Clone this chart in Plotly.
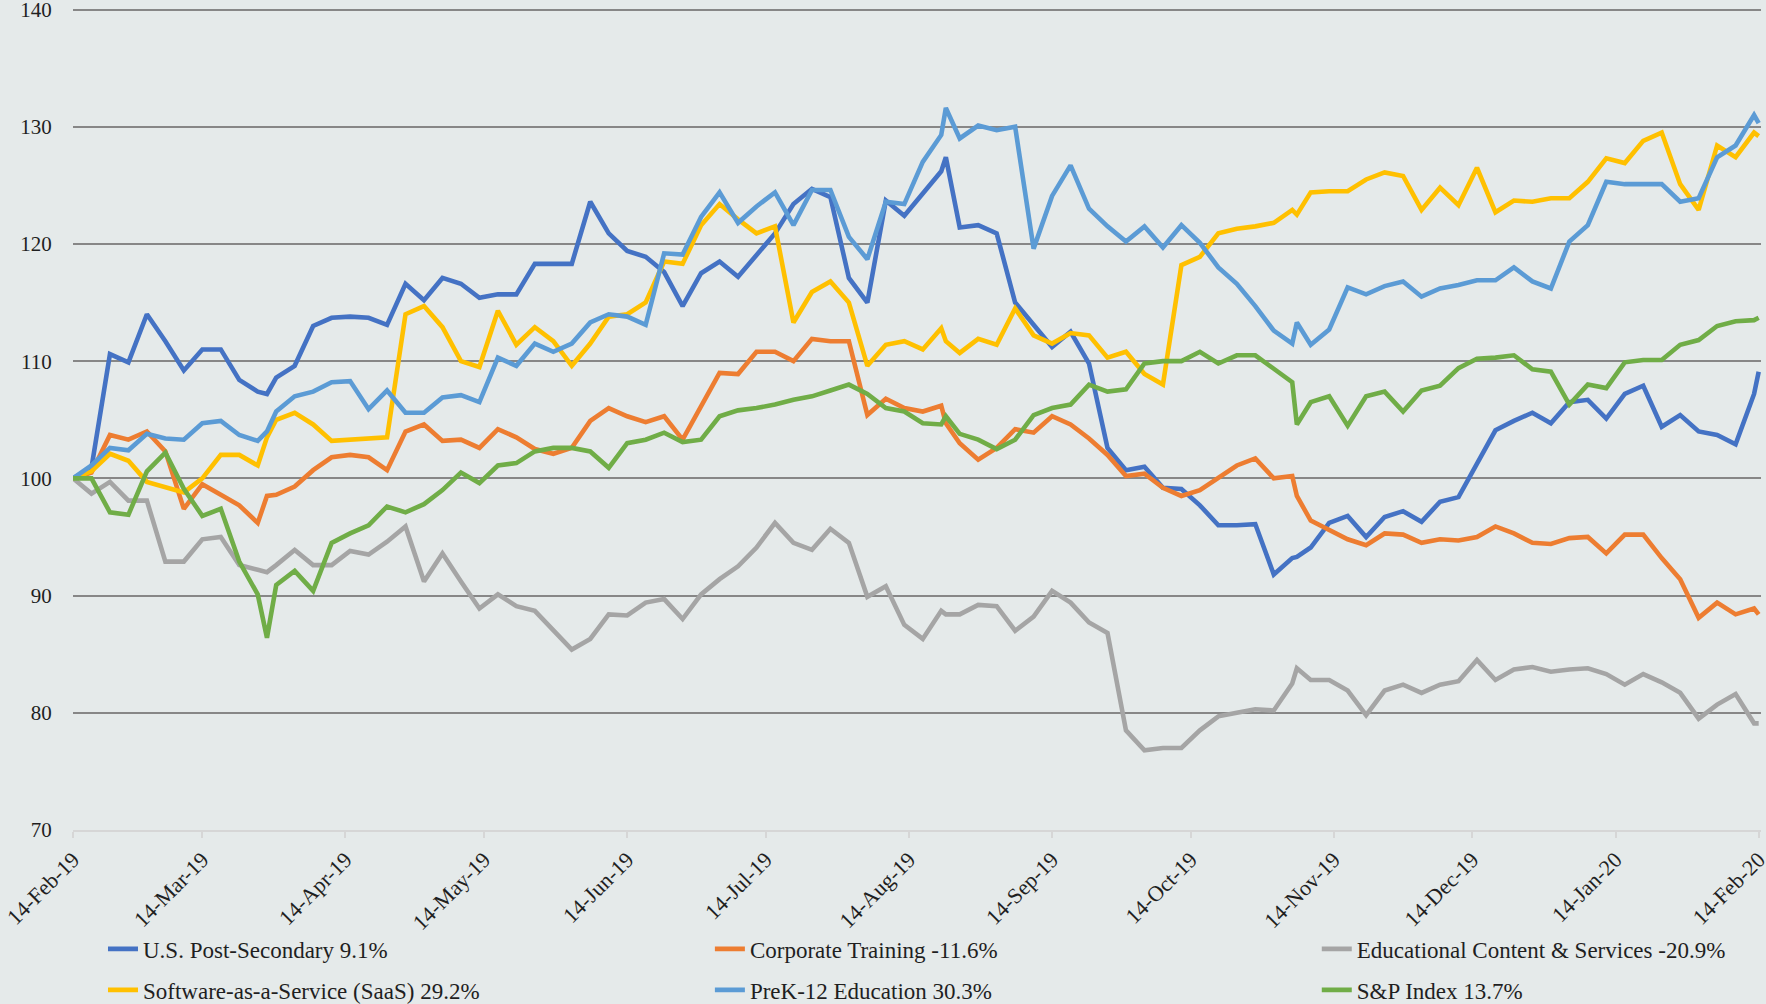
import pandas as pd
import plotly.graph_objects as go

START = "2019-02-14"
DAY_OFFSETS = [0, 4, 8, 12, 16, 20, 24, 28, 32, 36,
               40, 42, 44, 48, 52, 56, 60, 64, 68, 72,
               76, 80, 84, 88, 92, 96, 100, 104, 108, 112,
               116, 120, 124, 128, 132, 136, 140, 144, 148, 152,
               156, 160, 164, 168, 172, 176, 180, 184, 188, 189,
               192, 196, 200, 204, 208, 212, 216, 220, 224, 228,
               232, 236, 240, 244, 248, 252, 256, 260, 264, 265,
               268, 272, 276, 280, 284, 288, 292, 296, 300, 304,
               308, 312, 316, 320, 324, 328, 332, 336, 340, 344,
               348, 352, 356, 360, 364, 365]

post_secondary = [100.0, 100.9, 110.6, 109.9, 114.0, 111.7, 109.2, 111.0, 111.0, 108.4,
                  107.4, 107.2, 108.6, 109.6, 113.0, 113.7, 113.8, 113.7, 113.1, 116.6,
                  115.2, 117.1, 116.6, 115.4, 115.7, 115.7, 118.3, 118.3, 118.3, 123.6,
                  120.9, 119.4, 118.9, 117.6, 114.7, 117.5, 118.5, 117.2, 119.0, 120.9,
                  123.4, 124.7, 124.0, 117.1, 115.0, 123.7, 122.4, 124.3, 126.2, 127.4,
                  121.4, 121.6, 120.9, 115.0, 113.1, 111.2, 112.5, 109.8, 102.6, 100.7,
                  101.0, 99.2, 99.1, 97.7, 96.0, 96.0, 96.1, 91.8, 93.2, 93.3,
                  94.1, 96.2, 96.8, 95.0, 96.7, 97.2, 96.3, 98.0, 98.4, 101.3,
                  104.1, 104.9, 105.6, 104.7, 106.5, 106.7, 105.1, 107.2, 107.9, 104.4,
                  105.4, 104.0, 103.7, 102.9, 107.2, 109.1]

corporate_training = [100.0, 100.5, 103.7, 103.3, 104.0, 102.3, 97.4, 99.5, 98.6, 97.7,
                      96.2, 98.5, 98.6, 99.3, 100.7, 101.8, 102.0, 101.8, 100.7, 104.0,
                      104.6, 103.2, 103.3, 102.6, 104.2, 103.5, 102.5, 102.1, 102.6, 104.9,
                      106.0, 105.3, 104.8, 105.3, 103.3, 106.1, 109.0, 108.9, 110.8, 110.8,
                      110.0, 111.9, 111.7, 111.7, 105.4, 106.8, 106.0, 105.7, 106.2, 104.7,
                      103.0, 101.6, 102.6, 104.2, 103.9, 105.3, 104.6, 103.4, 102.0, 100.2,
                      100.4, 99.2, 98.5, 99.0, 100.0, 101.1, 101.7, 100.0, 100.2, 98.5,
                      96.4, 95.6, 94.8, 94.3, 95.3, 95.2, 94.5, 94.8, 94.7, 95.0,
                      95.9, 95.3, 94.5, 94.4, 94.9, 95.0, 93.6, 95.2, 95.2, 93.2,
                      91.4, 88.1, 89.4, 88.4, 88.9, 88.4]

educational_content = [100.0, 98.7, 99.7, 98.1, 98.1, 92.9, 92.9, 94.8, 95.0, 92.6,
                       92.2, 92.0, 92.6, 93.9, 92.6, 92.6, 93.8, 93.5, 94.6, 95.9,
                       91.2, 93.6, 91.2, 88.9, 90.1, 89.1, 88.7, 87.0, 85.4, 86.3,
                       88.4, 88.3, 89.4, 89.7, 88.0, 90.1, 91.4, 92.5, 94.1, 96.2,
                       94.5, 93.9, 95.7, 94.5, 89.9, 90.8, 87.5, 86.3, 88.7, 88.4,
                       88.4, 89.2, 89.1, 87.0, 88.2, 90.4, 89.4, 87.7, 86.8, 78.5,
                       76.8, 77.0, 77.0, 78.5, 79.7, 80.0, 80.3, 80.2, 82.5, 83.8,
                       82.8, 82.8, 81.9, 79.8, 81.9, 82.4, 81.7, 82.4, 82.7, 84.5,
                       82.8, 83.7, 83.9, 83.5, 83.7, 83.8, 83.3, 82.4, 83.3, 82.6,
                       81.7, 79.5, 80.7, 81.6, 79.1, 79.1]

saas = [100.0, 100.6, 102.1, 101.5, 99.7, 99.2, 98.8, 100.0, 102.0, 102.0,
        101.1, 103.5, 105.0, 105.6, 104.6, 103.2, 103.3, 103.4, 103.5, 114.0,
        114.7, 112.9, 110.0, 109.5, 114.3, 111.4, 112.9, 111.7, 109.6, 111.5,
        113.8, 114.0, 115.0, 118.5, 118.3, 121.6, 123.4, 122.1, 120.9, 121.5,
        113.3, 115.9, 116.8, 115.0, 109.6, 111.4, 111.7, 111.0, 112.8, 111.7,
        110.7, 111.9, 111.4, 114.5, 112.2, 111.5, 112.4, 112.2, 110.3, 110.8,
        108.9, 108.0, 118.2, 118.9, 120.9, 121.3, 121.5, 121.8, 122.9, 122.5,
        124.4, 124.5, 124.5, 125.5, 126.1, 125.8, 122.9, 124.8, 123.3, 126.5,
        122.7, 123.7, 123.6, 123.9, 123.9, 125.3, 127.3, 126.9, 128.8, 129.5,
        125.1, 122.9, 128.4, 127.4, 129.5, 129.2]

prek12 = [100.0, 101.1, 102.6, 102.4, 103.8, 103.4, 103.3, 104.7, 104.9, 103.7,
          103.2, 104.0, 105.7, 107.0, 107.4, 108.2, 108.3, 105.9, 107.5, 105.6,
          105.6, 106.9, 107.1, 106.5, 110.3, 109.6, 111.5, 110.8, 111.5, 113.3,
          114.0, 113.8, 113.1, 119.2, 119.1, 122.3, 124.4, 121.8, 123.2, 124.4,
          121.6, 124.6, 124.6, 120.6, 118.7, 123.6, 123.4, 127.0, 129.3, 131.6,
          129.0, 130.1, 129.7, 130.0, 119.6, 124.1, 126.7, 123.0, 121.5, 120.2,
          121.5, 119.7, 121.6, 120.1, 118.0, 116.6, 114.7, 112.6, 111.5, 113.3,
          111.4, 112.7, 116.3, 115.7, 116.4, 116.8, 115.5, 116.2, 116.5, 116.9,
          116.9, 118.0, 116.8, 116.2, 120.2, 121.6, 125.3, 125.1, 125.1, 125.1,
          123.6, 123.9, 127.4, 128.4, 131.0, 130.3]

sp_index = [100.0, 100.0, 97.1, 96.9, 100.6, 102.2, 99.1, 96.8, 97.4, 92.9,
            90.1, 86.4, 90.9, 92.1, 90.4, 94.5, 95.3, 96.0, 97.6, 97.1,
            97.8, 99.0, 100.5, 99.6, 101.1, 101.3, 102.3, 102.6, 102.6, 102.3,
            100.9, 103.0, 103.3, 103.9, 103.1, 103.3, 105.3, 105.8, 106.0, 106.3,
            106.7, 107.0, 107.5, 108.0, 107.2, 106.0, 105.7, 104.7, 104.6, 105.3,
            103.8, 103.3, 102.5, 103.3, 105.4, 106.0, 106.3, 108.0, 107.4, 107.6,
            109.8, 110.0, 110.0, 110.8, 109.8, 110.5, 110.5, 109.4, 108.2, 104.6,
            106.5, 107.0, 104.5, 107.0, 107.4, 105.7, 107.5, 107.9, 109.4, 110.2,
            110.3, 110.5, 109.3, 109.1, 106.3, 108.0, 107.7, 109.9, 110.1, 110.1,
            111.4, 111.8, 113.0, 113.4, 113.5, 113.7]

series_names = ["U.S. Post-Secondary 9.1%", "Corporate Training -11.6%",
                "Educational Content & Services -20.9%",
                "Software-as-a-Service (SaaS) 29.2%", "PreK-12 Education 30.3%",
                "S&P Index 13.7%"]
series_values = [post_secondary, corporate_training, educational_content,
                 saas, prek12, sp_index]
series_colors = ["#4472C4", "#ED7D31", "#A5A5A5", "#FFC000", "#5B9BD5", "#70AD47"]

y_ticks = [70, 80, 90, 100, 110, 120, 130, 140]
tick_dates = ["2019-02-14", "2019-03-14", "2019-04-14", "2019-05-14", "2019-06-14",
              "2019-07-14", "2019-08-14", "2019-09-14", "2019-10-14", "2019-11-14",
              "2019-12-14", "2020-01-14", "2020-02-14"]

dates = pd.to_datetime(START) + pd.to_timedelta(DAY_OFFSETS, unit="D")

BG = "#E5EAEA"
FONT = "Liberation Serif"
TXT = "#1F1F1F"

W, H = 1766, 1004
ml, mr, mt, mb = 73, 4.7, 5.5, 174
ph = H - mt - mb
pw = W - ml - mr


def px_to_paper_y(py):
    return (H - mb - py) / ph


def px_to_paper_x(px):
    return (px - ml) / pw


# legend grid: 3 columns x 2 rows (pixel positions of each entry's box)
legend_cols_px = [103, 710, 1317]
legend_rows_px = [949, 990]

fig = go.Figure()
layout_legends = {}
for i, (name, vals, col) in enumerate(zip(series_names, series_values, series_colors)):
    key = "legend" if i == 0 else f"legend{i + 1}"
    fig.add_trace(go.Scatter(x=dates, y=vals, mode="lines", name=name,
                             line=dict(color=col, width=4.6), legend=key))
    layout_legends[key] = dict(
        x=px_to_paper_x(legend_cols_px[i % 3]),
        y=px_to_paper_y(legend_rows_px[i // 3]),
        xanchor="left", yanchor="middle", orientation="h",
        font=dict(family=FONT, size=23, color=TXT),
        bgcolor="rgba(0,0,0,0)")

fig.update_layout(
    width=W, height=H,
    margin=dict(l=ml, r=mr, t=mt, b=mb, autoexpand=False),
    paper_bgcolor=BG, plot_bgcolor=BG,
    font=dict(family=FONT, size=22, color=TXT),
    showlegend=True,
    xaxis=dict(type="date", range=["2019-02-14", "2020-02-14 12:00"], automargin=False,
               tickvals=tick_dates, tickformat="%d-%b-%y", tickangle=-45,
               ticklabeloverflow="allow",
               ticks="outside", ticklen=6, tickwidth=2, tickcolor="#D6D6D6",
               showline=True, linecolor="#D6D6D6", linewidth=2,
               showgrid=False, zeroline=False,
               tickfont=dict(family=FONT, size=22, color=TXT)),
    yaxis=dict(range=[70, 140.3], tickvals=y_ticks, automargin=False,
               ticklabeloverflow="allow",
               showgrid=True, gridcolor="#878787", gridwidth=2,
               zeroline=False, showline=False,
               ticks="outside", ticklen=16, tickcolor="rgba(0,0,0,0)",
               tickfont=dict(family=FONT, size=21, color=TXT)),
    **layout_legends,
)

fig.write_html("out.html", config={"displayModeBar": False},
               post_script="document.body.style.margin='0';")
